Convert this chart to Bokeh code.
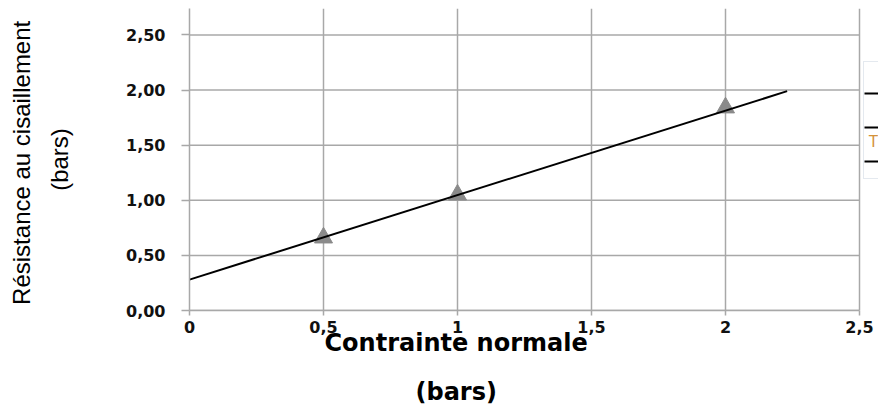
import numpy as np
from bokeh.plotting import figure
from bokeh.models import FixedTicker, Label, Legend, LegendItem, Range1d, Title
from bokeh.embed import file_html
from bokeh.resources import INLINE

# ---- data ----
contrainte = [0.5, 1.0, 2.0]          # contrainte normale (bars)
resistance = [0.66, 1.05, 1.84]       # résistance au cisaillement (bars)
trend_x = [0.0, 2.23]                 # trend line ends
trend_y = [0.28, 1.99]
x_ticks = [0, 0.5, 1, 1.5, 2, 2.5]
x_tick_labels = ["0", "0,5", "1", "1,5", "2", "2,5"]
y_ticks = [0, 0.5, 1, 1.5, 2, 2.5]
y_tick_labels = ["0,00", "0,50", "1,00", "1,50", "2,00", "2,50"]
x_title = ["Contrainte normale", "(bars)"]
y_title = ["Résistance  au cisaillement", "(bars)"]
legend_rows = [" ", " ", " "]
legend_fragment_text = "T"

GRID = "#a8a8a8"

# frame runs to the right canvas edge so the cut-off legend can be drawn in it
p = figure(width=878, height=407, output_backend="svg", toolbar_location=None,
           x_range=Range1d(0, 2.5 * 689 / 670), y_range=Range1d(0, 2.74),
           min_border_left=189, min_border_right=0, min_border_top=8,
           min_border_bottom=10)
p.outline_line_color = None
p.background_fill_color = "white"
p.border_fill_color = "white"

p.xaxis.ticker = FixedTicker(ticks=x_ticks)
p.yaxis.ticker = FixedTicker(ticks=y_ticks)
p.xaxis.bounds = (x_ticks[0], x_ticks[-1])
p.xaxis.major_label_overrides = {float(t): s for t, s in zip(x_ticks, x_tick_labels)}
p.yaxis.major_label_overrides = {float(t): s for t, s in zip(y_ticks, y_tick_labels)}

for ax in (p.xaxis[0], p.yaxis[0]):
    ax.axis_line_color = GRID
    ax.axis_line_width = 1.5
    ax.major_tick_line_color = GRID
    ax.major_tick_line_width = 1.5
    ax.major_tick_in = 0
    ax.minor_tick_line_color = None
    ax.major_label_text_font = "DejaVu Sans"
    ax.major_label_text_font_style = "bold"
    ax.major_label_text_font_size = "16px"
    ax.major_label_text_color = "#111111"
p.xaxis.major_tick_out = 5
p.xaxis.major_label_standoff = 5
p.yaxis.major_tick_out = 8
p.yaxis.major_label_standoff = 16

# y-axis title (two lines)
p.yaxis.axis_label = "\n".join(y_title)
p.yaxis.axis_label_text_font = "Liberation Sans"
p.yaxis.axis_label_text_font_style = "normal"
p.yaxis.axis_label_text_font_size = "24px"
p.yaxis.axis_label_text_line_height = 1.4
p.yaxis.axis_label_text_color = "black"
p.yaxis.axis_label_standoff = 50

# grid: vertical lines from the x ticker, horizontal lines stop at the last x tick
p.xgrid.grid_line_color = GRID
p.xgrid.grid_line_width = 1.5
p.ygrid.grid_line_color = None
p.segment(x0=[x_ticks[0]] * len(y_ticks), y0=y_ticks,
          x1=[x_ticks[-1]] * len(y_ticks), y1=y_ticks,
          line_color=GRID, line_width=1.5)

p.scatter(contrainte, resistance, marker="triangle", size=18,
          fill_color="#8a8a8a", line_color="#8a8a8a")
trend = p.line(trend_x, trend_y, line_color="black", line_width=2)

# x-axis title (two lines, centred left of the frame centre as in the reference)
title_style = dict(align="left", text_font="DejaVu Sans", text_font_style="bold",
                   text_font_size="24px", text_color="black")
t1 = Title(text=x_title[0], offset=135, standoff=-18, **title_style)
spacer = Title(text=" ", offset=0, standoff=-3, **title_style)
t2 = Title(text=x_title[1], offset=226, standoff=3, **title_style)
p.add_layout(t1, "below")
p.add_layout(spacer, "below")
p.add_layout(t2, "below")

# legend fragment cut off at the right edge (location = bottom-left corner)
items = [LegendItem(label=t, renderers=[trend]) for t in legend_rows]
legend = Legend(items=items, location=(674, 131), padding=0, margin=0, spacing=0,
                glyph_width=60, glyph_height=34, label_height=34,
                border_line_color="#c9d3e0", border_line_width=1.5,
                background_fill_alpha=0.0,
                title=" ", title_text_font_size="11px", title_standoff=2)
p.add_layout(legend, "center")
p.add_layout(Label(x=2.534, y=1.536, text=legend_fragment_text, text_align="left",
                   text_baseline="middle", text_font="Liberation Sans",
                   text_font_size="16px", text_color="#d4923a", level="overlay"))

open("out.html", "w").write(file_html(p, INLINE))
